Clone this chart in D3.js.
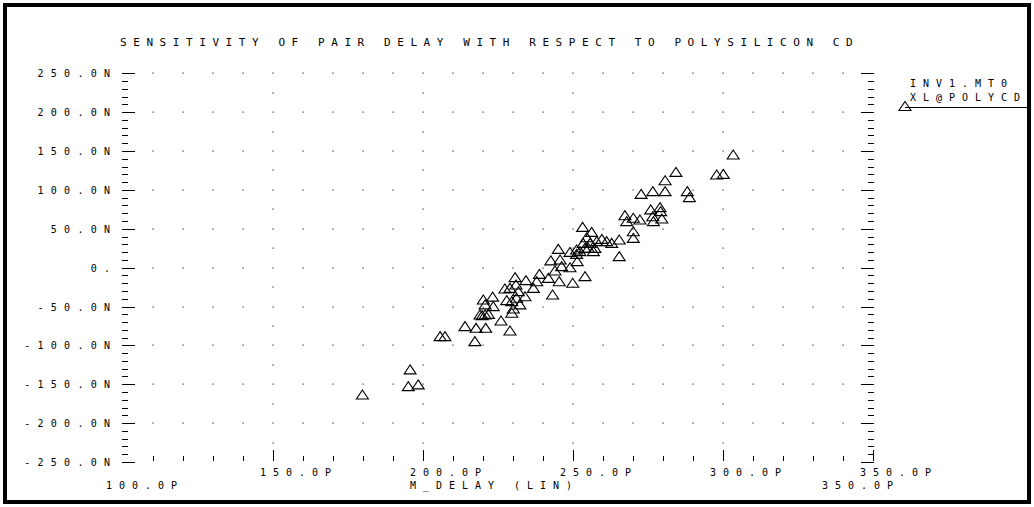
<!DOCTYPE html>
<html><head><meta charset="utf-8">
<script src="https://cdn.jsdelivr.net/npm/d3@7"></script>
<style>html,body{margin:0;padding:0;background:#fff;}svg{display:block;}</style>
</head><body>
<svg id="c" width="1034" height="507"></svg>
<script>
const titleText = "SENSITIVITY OF PAIR DELAY WITH RESPECT TO POLYSILICON CD";
const xTickValues = [150, 200, 250, 300, 350];
const xTickLabels = ["150.0P", "200.0P", "250.0P", "300.0P", "350.0P"];
const yTickValues = [250, 200, 150, 100, 50, 0, -50, -100, -150, -200, -250];
const yTickLabels = ["250.0N", "200.0N", "150.0N", "100.0N", "50.0N", "0.", "-50.0N", "-100.0N", "-150.0N", "-200.0N", "-250.0N"];
const xMinLabel = "100.0P", xMaxLabel = "350.0P", xAxisTitle = "M_DELAY (LIN)";
const legendLines = ["INV1.MT0", "XL@POLYCD"];
const delayP = [179.8,195.7,195.1,198.4,205.7,207.3,214,217.3,217.7,220.9,226,229,220.1,223.2,220.7,223.4,219,220.7,221.8,219.7,227.9,227.3,230.7,234.3,231,229,231.8,234,236.8,229.6,230.1,229.6,232.3,231.2,243.2,238.8,241.8,237.9,245.4,249.9,254,242.6,245.7,246.2,249,244,245.1,249,251.2,251.4,253.2,256.2,254.6,253.4,255.7,257.9,259.6,261.2,256.8,252.3,254,255.1,257.3,251.2,303.4,297.9,300.1,284.3,280.7,272.7,276.6,280.7,288.1,288.8,267.3,270.1,272.3,267.9,275.9,279,279.2,276.6,279.6,276.8,270.1,270.1,265.4,262.9,265.4];
const sensN = [-163.1,-130.9,-152.4,-150.2,-88.1,-88.1,-75.2,-94.5,-77.4,-77.4,-67.9,-80.8,-40.9,-37.3,-47.3,-49.5,-60.2,-60.2,-59.4,-61.1,-41.8,-26.8,-12.2,-16.1,-21.6,-26,-30.2,-36.7,-26,-43.1,-52.5,-58.1,-47.3,-38.8,-34.5,-8,-13.1,-17.4,-17.4,-19.5,-10.9,9.3,10.5,1.9,0.6,-3.6,24.2,20.3,17.7,8.4,52.5,46,39.2,31.9,31.9,34.1,37,34.1,21.2,21.2,25.5,25.5,25.5,23.4,145.6,119.9,120.6,123.2,112.5,94.9,98.4,98.4,98.4,90.7,67.5,64.1,62,59.8,74.9,77.8,72.7,66.2,63.3,59.8,46.9,38.3,36.3,31.9,14.8];

const svg = d3.select("#c");
const L = 123, R = 873, T = 73.3, B = 462;
const x = d3.scaleLinear().domain([100, 350]).range([L, R]);
const y = d3.scaleLinear().domain([-250, 250]).range([B, T]);
const PITCH = 13;
const font = "'DejaVu Sans Mono', monospace";

// frame
svg.append("rect").attr("x", 5).attr("y", 5).attr("width", 1024).attr("height", 497)
  .attr("fill", "none").attr("stroke", "#000").attr("stroke-width", 4);

function spaced(sel, fs, pitch) {
  return sel.attr("font-family", font).attr("font-size", fs).attr("fill", "#000")
    .attr("letter-spacing", ((pitch || PITCH) - fs * 0.602) + "px");
}

// title
spaced(svg.append("text").attr("x", 120).attr("y", 46).text(titleText), 11, 13.2);

// grid dots
const minorX = d3.range(100, 350.01, 10);
const minorY = d3.range(-250, 250.01, 10);
const midY = d3.range(-225, 250, 50);
const dots = [];
yTickValues.filter(v => v > -250).forEach(v => minorX.forEach(m => { if (m > 100 && m < 350) dots.push([m, v]); }));
xTickValues.filter(v => v < 350).forEach(v => midY.forEach(m => dots.push([v, m])));
svg.append("g").selectAll("rect").data(dots).join("rect")
  .attr("x", d => Math.round(x(d[0])) - 0.5).attr("y", d => Math.round(y(d[1])) - 0.5)
  .attr("width", 1.2).attr("height", 1.2).attr("fill", "#333");

// y ticks left & right
const yMaj = new Set(yTickValues);
const gy = svg.append("g").attr("stroke", "#000").attr("stroke-width", 1);
minorY.forEach(v => {
  const major = yMaj.has(Math.round(v));
  const len = major ? 13 : 6;
  const yy = Math.round(y(v)) + 0.5;
  gy.append("line").attr("x1", L - 1).attr("x2", L - 1 + len).attr("y1", yy).attr("y2", yy);
  gy.append("line").attr("x1", R + 1).attr("x2", R + 1 - len).attr("y1", yy).attr("y2", yy);
});
// x ticks bottom
const xMaj = new Set(xTickValues.concat([100]));
minorX.forEach(v => {
  const major = xMaj.has(Math.round(v));
  if (v === 100) return;
  const len = major ? 11 : 5;
  const xx = Math.round(x(v)) + 0.5;
  gy.append("line").attr("x1", xx).attr("x2", xx).attr("y1", B - 1).attr("y2", B - 1 - len);
});

// y labels
yTickLabels.forEach((t, i) => {
  spaced(svg.append("text").attr("x", 104 - (t.length - 1) * 13.3)
    .attr("y", y(yTickValues[i]) + 4).text(t), 10, 13.3);
});
// x labels
xTickLabels.forEach((t, i) => {
  spaced(svg.append("text").attr("x", x(xTickValues[i]) - 13).attr("y", 476).text(t), 10);
});
spaced(svg.append("text").attr("x", 106).attr("y", 489).text(xMinLabel), 10);
spaced(svg.append("text").attr("x", 410).attr("y", 489).text(xAxisTitle), 10);
spaced(svg.append("text").attr("x", 822).attr("y", 489).text(xMaxLabel), 10);

// markers
const tri = "M0,-4.5L6,4.5L-6,4.5Z";
svg.append("g").selectAll("path").data(delayP.map((d, i) => [d, sensN[i]])).join("path")
  .attr("d", tri).attr("transform", d => `translate(${x(d[0])},${y(d[1])})`)
  .attr("fill", "none").attr("stroke", "#000").attr("stroke-width", 1.1);

// legend
legendLines.forEach((t, i) => {
  spaced(svg.append("text").attr("x", 910).attr("y", 87 + i * 14).text(t), 10);
});
svg.append("path").attr("d", tri).attr("transform", "translate(905,106)")
  .attr("fill", "none").attr("stroke", "#000").attr("stroke-width", 1.1);
svg.append("line").attr("x1", 905).attr("x2", 1029).attr("y1", 107.5).attr("y2", 107.5)
  .attr("stroke", "#000").attr("stroke-width", 1);
</script>
</body></html>
